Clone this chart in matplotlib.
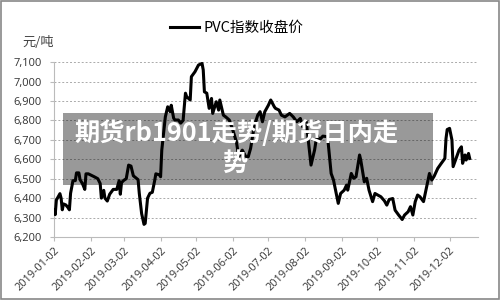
import matplotlib
matplotlib.use("Agg")
import matplotlib.pyplot as plt
import matplotlib.dates as mdates
import numpy as np
import pandas as pd
from matplotlib.patches import Rectangle

plt.rcParams['font.family'] = ['Noto Sans CJK SC', 'DejaVu Sans']

# days since 2019-01-02
day_offsets = [0, 1, 2, 5, 6, 7, 8, 10, 12, 13, 14, 16, 18, 19, 21, 22, 24, 26, 27, 29,
               34, 37, 39, 40, 42, 43, 45, 47, 50, 53, 55, 56, 57, 59, 61, 63, 65, 67, 69, 71,
               72, 74, 76, 77, 79, 81, 83, 85, 86, 89, 90, 91, 94, 96, 98, 99, 101, 102, 105, 107,
               109, 111, 112, 115, 116, 119, 122, 125, 126, 127, 129, 131, 133, 134, 137, 139, 140, 143, 145, 148,
               151, 154, 156, 159, 162, 164, 166, 169, 172, 174, 176, 178, 181, 183, 186, 187, 190, 192, 195, 199,
               202, 205, 208, 210, 213, 215, 217, 220, 222, 224, 227, 231, 234, 236, 240, 242, 245, 247, 248, 251,
               253, 255, 258, 259, 262, 264, 266, 269, 271, 276, 279, 281, 283, 286, 288, 291, 294, 296, 299, 301,
               303, 305, 307, 309, 312, 314, 317, 319, 321, 324, 327, 330, 331, 332, 334, 336, 337, 340, 342, 344,
               345, 347, 348, 350, 351]
pvc_close = [6340, 6315, 6390, 6423, 6400, 6340, 6370, 6365, 6350, 6340, 6425, 6490, 6490, 6530, 6530, 6495, 6475, 6445, 6525, 6525,
             6510, 6500, 6475, 6400, 6440, 6400, 6385, 6420, 6445, 6445, 6490, 6420, 6480, 6492, 6500, 6570, 6565, 6515, 6505, 6495,
             6425, 6320, 6265, 6270, 6400, 6425, 6430, 6490, 6525, 6520, 6510, 6647, 6818, 6870, 6845, 6878, 6812, 6802, 6802, 6786,
             6800, 6940, 6922, 6905, 7025, 7050, 7085, 7093, 7060, 6947, 6940, 6862, 6913, 6836, 6896, 6853, 6905, 6827, 6818, 6802,
             6750, 6690, 6613, 6647, 6613, 6613, 6656, 6767, 6827, 6845, 6793, 6845, 6878, 6905, 6870, 6862, 6853, 6827, 6818, 6836,
             6818, 6793, 6810, 6767, 6793, 6681, 6570, 6647, 6724, 6699, 6719, 6716, 6527, 6493, 6373, 6424, 6441, 6467, 6441, 6527,
             6502, 6510, 6622, 6596, 6484, 6502, 6441, 6382, 6424, 6407, 6386, 6364, 6393, 6398, 6338, 6313, 6290, 6313, 6330, 6356,
             6313, 6382, 6416, 6407, 6382, 6441, 6527, 6493, 6513, 6553, 6579, 6604, 6707, 6753, 6759, 6699, 6562, 6613, 6647, 6664,
             6579, 6622, 6596, 6630, 6604]
tick_dates = ["2019-01-02", "2019-02-02", "2019-03-02", "2019-04-02", "2019-05-02", "2019-06-02",
              "2019-07-02", "2019-08-02", "2019-09-02", "2019-10-02", "2019-11-02", "2019-12-02"]
y_ticks = [6200, 6300, 6400, 6500, 6600, 6700, 6800, 6900, 7000, 7100]

dates = pd.Timestamp("2019-01-02") + pd.to_timedelta(day_offsets, unit="D")
latin = ["Open Sans", "DejaVu Sans"]

fig = plt.figure(figsize=(5, 3), dpi=100)
ax = fig.add_axes([0.108, 0.21, 0.848, 0.583])

ax.plot(dates, pvc_close, color="black", lw=2.2, label="PVC指数收盘价", zorder=3)

ax.set_ylim(6200, 7100)
ax.set_xlim(pd.Timestamp("2019-01-02"), pd.Timestamp("2019-12-26"))
ax.set_yticks(y_ticks)
ax.set_yticklabels([f"{v:,}" for v in y_ticks], fontsize=8, color="#333333", family=latin)
ax.set_xticks(pd.to_datetime(tick_dates))
ax.xaxis.set_major_formatter(mdates.DateFormatter("%Y-%m-%d"))
for lbl in ax.get_xticklabels():
    lbl.set_rotation(45)
    lbl.set_ha("right")
    lbl.set_rotation_mode("anchor")
    lbl.set_fontsize(7.8)
    lbl.set_color("#333333")
    lbl.set_family(latin)

ax.grid(axis="y", linestyle=(0, (2, 2)), color="#aaaaaa", lw=0.7)
for s in ["top", "right"]:
    ax.spines[s].set_visible(False)
ax.spines["left"].set_color("#bbbbbb")
ax.spines["bottom"].set_color("#bbbbbb")
ax.tick_params(axis="both", color="#bbbbbb", length=3)
ax.tick_params(axis="y", pad=6)
ax.tick_params(axis="x", pad=3)

# unit label and legend
fig.text(0.044, 0.845, "元/吨", fontsize=9.5, color="#444444")
ax.legend(loc="lower center", bbox_to_anchor=(0.43, 1.08), frameon=False,
          handlelength=2.0, handletextpad=0.3, prop={"size": 10.5})

# grey watermark banner
fig.patches.append(Rectangle((0.126, 0.383), 0.74, 0.24, transform=fig.transFigure,
                             facecolor="black", alpha=0.4, edgecolor="none", zorder=5))
fig.text(0.148, 0.555, "期货rb1901走势/期货日内走", fontsize=18.2, fontweight="black",
         color="white", va="center", ha="left", zorder=6)
fig.text(0.47, 0.455, "势", fontsize=18.2, fontweight="black",
         color="white", va="center", ha="center", zorder=6)

# outer frame
fig.patches.append(Rectangle((0.002, 0.003), 0.996, 0.994, transform=fig.transFigure,
                             facecolor="none", edgecolor="#888888", lw=1.2))

fig.savefig("out.png", dpi=100)
